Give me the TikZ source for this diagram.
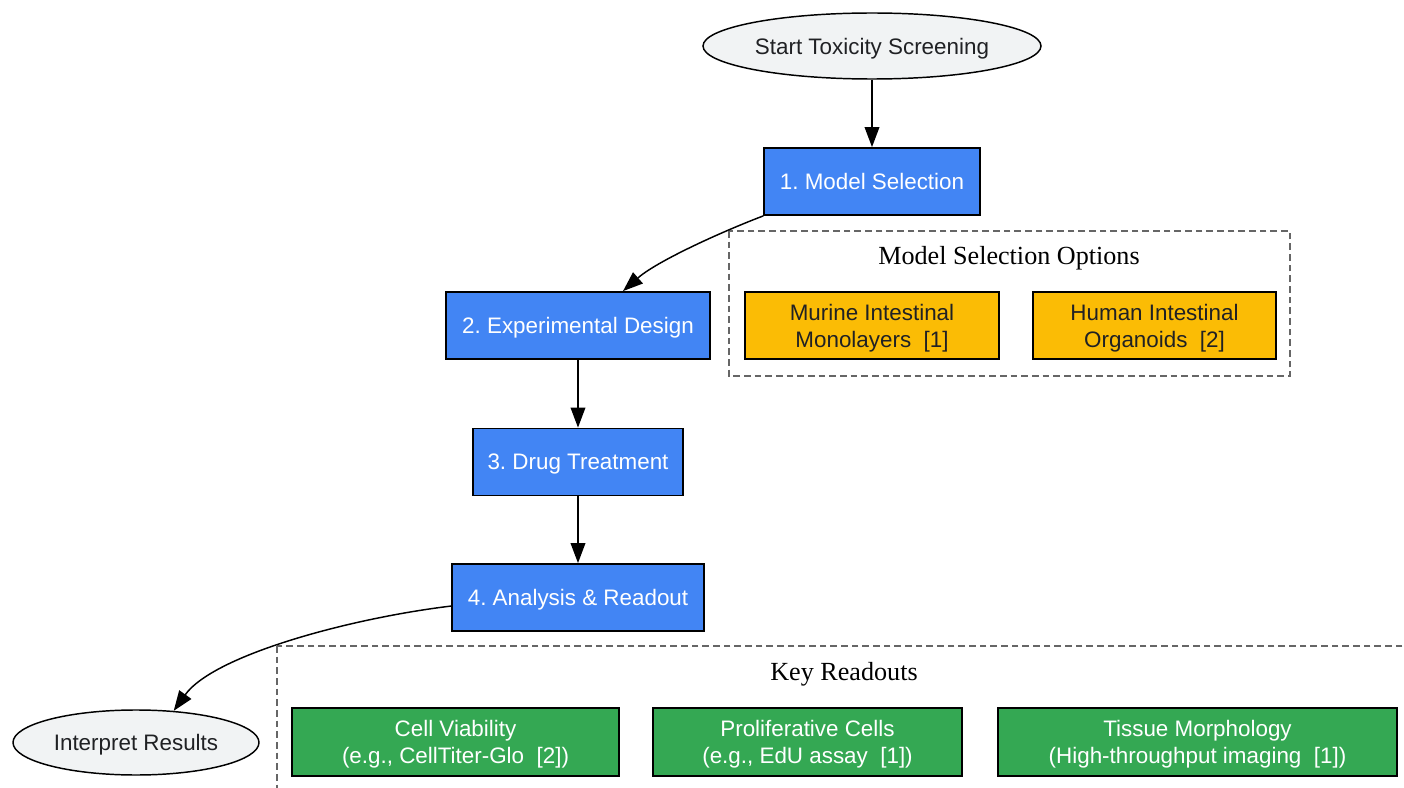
\documentclass[tikz,border=0pt]{standalone}
\usepackage{fontspec}
\setmainfont{Liberation Sans}
\newfontfamily\clusterfont{Liberation Serif}
\usetikzlibrary{arrows.meta,shapes.geometric}
\definecolor{gblue}{HTML}{4285F4}
\definecolor{gyellow}{HTML}{FBBC05}
\definecolor{ggreen}{HTML}{34A853}
\definecolor{ggray}{HTML}{F1F3F4}
\definecolor{gtext}{HTML}{202124}
\definecolor{gframe}{HTML}{666666}
\frenchspacing
\begin{document}
\begin{tikzpicture}[x=0.75pt,y=-0.75pt,
 every node/.style={font=\fontsize{16.8}{20.2}\selectfont,align=center,inner sep=0pt,text depth=0pt,line width=1.1pt},
 oval/.style={draw,ellipse,fill=ggray,text=gtext},
 stepbox/.style={draw,fill=gblue,text=white,minimum height=50.5pt},
 optbox/.style={draw,fill=gyellow,text=gtext,minimum height=50.5pt},
 readbox/.style={draw,fill=ggreen,text=white,minimum height=51pt},
 group/.style={draw=gframe,line width=1.1pt,dash pattern=on 5pt off 3pt},
 grouplbl/.style={font=\clusterfont\fontsize{19.6}{23}\selectfont,text=black},
 link/.style={line width=1.1pt,-{Triangle[length=15pt,width=11pt]}}]
\useasboundingbox (0,0) rectangle (1404,788);
\clip (0,0) rectangle (1404,788);
% main steps
\node[oval,minimum width=253.5pt,minimum height=49.5pt] (start) at (872,46) {Start Toxicity Screening};
\node[stepbox,minimum width=162pt] (m1) at (872,181.5) {1. Model Selection};
\node[stepbox,minimum width=198pt] (m2) at (578,325.5) {2. Experimental Design};
\node[stepbox,minimum width=157.5pt] (m3) at (578,462) {3. Drug Treatment};
\node[stepbox,minimum width=189pt] (m4) at (578,597.5) {4. Analysis \& Readout};
\node[oval,minimum width=184.5pt,minimum height=48.75pt] (res) at (136,742.5) {Interpret Results};
% model options
\draw[group] (729,231) rectangle (1290,376);
\node[grouplbl] (optlbl) at (1009,255) {Model Selection Options};
\node[optbox,minimum width=190.5pt] (mur) at (872,325.5) {Murine Intestinal\\Monolayers\ \ [1]};
\node[optbox,minimum width=182.25pt] (hum) at (1154.5,325.5) {Human Intestinal\\Organoids\ \ [2]};
% readouts
\draw[group] (277,646) rectangle (1411,800);
\node[grouplbl] (keylbl) at (844,671) {Key Readouts};
\node[readbox,minimum width=245.25pt] (via) at (455.5,742) {Cell Viability\\(e.g., CellTiter-Glo\ \ [2])};
\node[readbox,minimum width=231.75pt] (pro) at (807.5,742) {Proliferative Cells\\(e.g., EdU assay\ \ [1])};
\node[readbox,minimum width=299.25pt] (tis) at (1197.5,742) {Tissue Morphology\\(High-throughput imaging\ \ [1])};
% links
\draw[link] (start) -- (m1);
\draw[link] (m1.south west) .. controls +(-42,16) and +(34,-30) .. ([xshift=33.75pt]m2.north);
\draw[link] (m2) -- (m3);
\draw[link] (m3) -- (m4);
\draw[link] ([yshift=-6.4pt]m4.west) .. controls +(-100,12) and +(40,-56) .. (res.40);
\end{tikzpicture}
\end{document}
